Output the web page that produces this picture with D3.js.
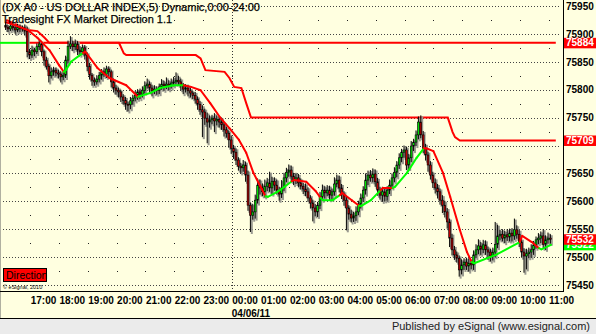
<!DOCTYPE html>
<html>
<head>
<meta charset="utf-8">
<script src="https://cdn.jsdelivr.net/npm/d3@7"></script>
<style>
  body { margin: 0; background: #fff; }
  svg { display: block; }
  text { font-family: "Liberation Sans", Arial, sans-serif; }
</style>
</head>
<body>
<svg id="chart"></svg>
<script>
// ---- data (5 minute bars, DX A0) ----
const startTime = new Date(2011, 3, 5, 16, 10);
const firstOpen = 75915;

const closes = [
  75912, 75909, 75914, 75911, 75907, 75912, 75909, 75911, 75905, 75868,
  75862, 75871, 75868, 75877, 75882, 75868, 75853, 75842, 75825, 75832, 75835, 75830,
  75828, 75823, 75826, 75853, 75878, 75882, 75877, 75882, 75871, 75868, 75875, 75862,
  75842, 75826, 75817, 75814, 75819, 75826, 75832, 75828, 75837, 75832, 75814, 75803,
  75799, 75796, 75787, 75781, 75774, 75773, 75780, 75785, 75790, 75796, 75792, 75799,
  75807, 75810, 75803, 75798, 75801, 75799, 75805, 75810, 75807, 75810, 75807, 75812,
  75814, 75817, 75814, 75807, 75801, 75803, 75798, 75794, 75790, 75783, 75774, 75764,
  75760, 75749, 75742, 75746, 75749, 75744, 75747, 75742, 75737, 75728, 75722, 75710,
  75695, 75688, 75674, 75663, 75660, 75665, 75647, 75593, 75575, 75581, 75602, 75629,
  75624, 75617, 75627, 75633, 75624, 75636, 75629, 75620, 75613, 75624, 75642, 75652,
  75656, 75645, 75638, 75642, 75633, 75627, 75622, 75617, 75606, 75597, 75588, 75581,
  75593, 75609, 75620, 75615, 75620, 75611, 75617, 75631, 75638, 75624, 75613, 75602,
  75588, 75577, 75570, 75574, 75581, 75595, 75606, 75620, 75638, 75647, 75642, 75649,
  75635, 75620, 75611, 75617, 75609, 75620, 75629, 75642, 75652, 75665, 75678, 75688,
  75692, 75665, 75678, 75699, 75706, 75719, 75742, 75719, 75695, 75683, 75665, 75647,
  75633, 75624, 75617, 75602, 75593, 75581, 75563, 75534, 75513, 75504, 75498, 75477,
  75486, 75491, 75484, 75489, 75486, 75504, 75513, 75520, 75514, 75522, 75513, 75509,
  75502, 75509, 75523, 75538, 75541, 75534, 75540, 75536, 75543, 75538, 75549, 75541,
  75527, 75509, 75502, 75506, 75509, 75513, 75522, 75531, 75534, 75538, 75523, 75531, 75534, 75532
];

// wick length above / below the body, in points
const wickHi = [
  6, 4, 5, 8, 4, 6, 5, 4, 6, 8,
  5, 8, 4, 6, 9, 5, 4, 6, 5, 8, 6, 5,
  6, 5, 7, 8, 10, 14, 6, 8, 5, 7, 6, 5,
  5, 6, 4, 5, 7, 6, 5, 8, 6, 5, 4, 6,
  6, 5, 4, 5, 6, 5, 7, 6, 8, 5, 6, 7,
  8, 10, 5, 6, 7, 5, 6, 9, 6, 12, 7, 8,
  9, 14, 8, 6, 5, 7, 6, 5, 4, 6, 5, 6,
  8, 6, 10, 8, 6, 9, 7, 6, 8, 5, 6, 5,
  8, 6, 7, 5, 6, 9, 6, 8, 5, 14, 10, 12,
  10, 8, 12, 9, 20, 8, 7, 10, 6, 14, 9, 8,
  10, 8, 6, 9, 7, 8, 6, 10, 8, 5, 6, 7,
  6, 8, 10, 7, 9, 8, 6, 12, 10, 8, 7, 5,
  6, 5, 8, 7, 10, 6, 8, 7, 12, 8, 9, 10,
  8, 7, 6, 9, 8, 7, 10, 8, 9, 7, 8, 6,
  8, 6, 7, 9, 6, 8, 10, 12, 7, 8, 6, 7,
  6, 8, 7, 6, 9, 8, 7, 6, 8, 7, 6, 5,
  10, 7, 8, 9, 6, 8, 10, 12, 7, 9, 8, 6,
  6, 8, 40, 20, 8, 9, 7, 10, 8, 9, 20, 8,
  8, 6, 7, 9, 8, 10, 7, 6, 9, 8, 12, 8, 10, 7
];
const wickLo = [
  5, 6, 4, 5, 7, 4, 6, 5, 8, 10,
  7, 5, 8, 4, 6, 8, 10, 6, 12, 5, 7, 6,
  8, 10, 6, 5, 6, 5, 8, 6, 9, 7, 5, 8,
  9, 8, 10, 7, 5, 6, 8, 5, 7, 9, 10, 8,
  8, 10, 9, 8, 10, 12, 8, 7, 6, 8, 9, 6,
  6, 5, 8, 10, 6, 8, 7, 5, 9, 6, 8, 5,
  6, 5, 7, 8, 9, 6, 10, 8, 7, 8, 10, 9,
  45, 12, 38, 10, 8, 20, 8, 10, 9, 12, 8, 14,
  10, 12, 9, 8, 10, 7, 12, 10, 30, 8, 12, 6,
  12, 8, 10, 9, 7, 12, 10, 8, 12, 7, 6, 8,
  8, 10, 9, 7, 8, 6, 9, 8, 7, 10, 24, 8,
  9, 7, 8, 10, 6, 9, 8, 7, 6, 8, 9, 10,
  40, 10, 8, 7, 9, 6, 8, 7, 8, 9, 7, 8,
  9, 10, 8, 12, 9, 8, 7, 6, 8, 9, 7, 8,
  10, 9, 7, 8, 9, 7, 8, 6, 9, 10, 12, 8,
  9, 10, 12, 8, 14, 10, 12, 16, 10, 9, 8, 12,
  8, 9, 7, 10, 8, 9, 6, 8, 10, 7, 9, 14,
  10, 8, 9, 7, 8, 6, 9, 7, 8, 10, 7, 8,
  9, 10, 30, 24, 8, 10, 9, 7, 8, 9, 8, 10, 7, 8
];

// trend average: [bar, value, direction]
const maPoints = [
  [0, 75921, "u"], [2, 75918, "d"], [9, 75907, "d"], [13, 75893, "d"], [18, 75871, "d"],
  [22, 75844, "d"], [24, 75832, "d"], [25, 75836, "u"], [27, 75850, "u"], [32, 75866, "u"],
  [33, 75868, "d"], [38, 75839, "d"], [43, 75821, "d"], [50, 75808, "d"], [55, 75787, "d"],
  [56, 75789, "u"], [60, 75794, "u"], [64, 75803, "u"], [70, 75808, "u"], [74, 75808, "u"],
  [77, 75805, "d"], [81, 75799, "d"], [85, 75776, "d"], [89, 75751, "d"], [93, 75731, "d"],
  [97, 75710, "d"], [100, 75687, "d"], [103, 75651, "d"], [106, 75626, "d"], [108, 75609, "d"],
  [109, 75608, "u"], [113, 75617, "u"], [116, 75626, "u"], [119, 75636, "u"],
  [120, 75638, "d"], [125, 75635, "d"], [129, 75618, "d"], [131, 75606, "d"],
  [132, 75602, "u"], [136, 75602, "u"], [139, 75611, "u"],
  [140, 75615, "d"], [144, 75602, "d"], [147, 75592, "d"],
  [148, 75592, "u"], [152, 75602, "u"], [156, 75620, "u"],
  [157, 75624, "d"], [161, 75624, "d"],
  [162, 75626, "u"], [167, 75651, "u"], [171, 75678, "u"], [174, 75695, "u"],
  [175, 75695, "d"], [178, 75690, "d"], [182, 75651, "d"], [185, 75608, "d"], [189, 75549, "d"],
  [192, 75509, "d"], [194, 75491, "d"],
  [195, 75489, "u"], [204, 75504, "u"], [214, 75527, "u"],
  [215, 75538, "d"], [219, 75527, "d"], [222, 75516, "d"],
  [223, 75514, "u"], [227, 75522, "u"]
];

// stepped market direction line: [bar, value]
const stepPoints = [
  [0, 75925], [9, 75907], [13, 75905], [16, 75893], [18, 75884], [47, 75884], [49, 75865],
  [50, 75862], [79, 75862], [81, 75856], [83, 75835], [91, 75832], [93, 75821], [95, 75805],
  [98, 75803], [100, 75776], [102, 75750], [184, 75750], [186, 75724], [187, 75715],
  [189, 75709], [229, 75709]
];

const levelValue = 75884;
const levelGreenUntil = 9;   // bar where the level turns red
const levelEnd = 229;

const priceTicks = [75450, 75500, 75550, 75600, 75650, 75700, 75750, 75800, 75850, 75900, 75950];
const priceLabels = [75450, 75500, 75550, 75600, 75650, 75750, 75800, 75850, 75900, 75950]; // 75700 sits under a tag
const halfTicks = [75475, 75525, 75575, 75625, 75675, 75725, 75775, 75825, 75875, 75925];
const markerLabels = [
  { value: 75522, color: "#00ff00" },
  { value: 75884, color: "#ff0000" },
  { value: 75709, color: "#ff0000" },
  { value: 75532, color: "#ff0000" }
];
const titleLines = ["(DX A0 - US DOLLAR INDEX,5) Dynamic,0:00-24:00", "Tradesight FX Market Direction 1.1"];

// ---- layout ----
const width = 596, height = 334;
const plotRight = 563, plotBottom = 291;
const bg = "#ffffe0";

const svg = d3.select("#chart").attr("width", width).attr("height", height);

const barTime = i => new Date(startTime.getTime() + i * 5 * 60000);

const x = d3.scaleTime()
  .domain([new Date(2011, 3, 5, 17, 0), new Date(2011, 3, 6, 11, 0)])
  .range([30.2, 548.6]);
const y = d3.scaleLinear().domain([75450, 75950]).range([285, 6]);

// background
svg.append("rect").attr("width", width).attr("height", 318).attr("fill", bg);
svg.append("rect").attr("y", 319).attr("width", width).attr("height", 15).attr("fill", "#ebebeb");
svg.append("line").attr("x1", 0).attr("x2", width).attr("y1", 318.5).attr("y2", 318.5).attr("stroke", "#000");
svg.append("line").attr("x1", 0.5).attr("x2", 0.5).attr("y1", 0).attr("y2", 318).attr("stroke", "#b0b0a0");

const hours = d3.timeHour.range(new Date(2011, 3, 5, 17, 0), new Date(2011, 3, 6, 11, 1));

// grid
const grid = svg.append("g");
grid.selectAll(".hgrid")
  .data(priceTicks)
  .join("line")
  .attr("x1", 3).attr("x2", 560)
  .attr("y1", d => Math.round(y(d)) + 0.5).attr("y2", d => Math.round(y(d)) + 0.5)
  .attr("stroke", "#444").attr("stroke-dasharray", "1,2");

const dots = [];
hours.forEach(h => halfTicks.forEach(v => dots.push([h, v])));
grid.selectAll(".dot")
  .data(dots)
  .join("rect")
  .attr("x", d => Math.round(x(d[0])))
  .attr("y", d => Math.round(y(d[1])))
  .attr("width", 1).attr("height", 1)
  .attr("fill", "#222");

grid.selectAll(".day")
  .data(hours.filter(h => h.getHours() === 0))
  .join("line")
  .attr("x1", d => Math.round(x(d)) + 0.5).attr("x2", d => Math.round(x(d)) + 0.5)
  .attr("y1", 0).attr("y2", plotBottom)
  .attr("stroke", "#333").attr("stroke-dasharray", "1,2");

// level line (green then red)
const levelLine = d3.line().x(d => x(barTime(d))).y(() => y(levelValue));
svg.append("path").attr("d", levelLine([-3, levelGreenUntil]))
  .attr("fill", "none").attr("stroke", "#00ff00").attr("stroke-width", 2);
svg.append("path").attr("d", levelLine([levelGreenUntil, levelEnd]))
  .attr("fill", "none").attr("stroke", "#ff0000").attr("stroke-width", 2);

// stepped direction line
svg.append("path")
  .attr("d", d3.line().x(d => x(barTime(d[0]))).y(d => y(d[1]))(stepPoints))
  .attr("fill", "none").attr("stroke", "#ff0000").attr("stroke-width", 2);

// candles
const bars = closes.map((c, i) => {
  const o = i ? closes[i - 1] : firstOpen;
  return { t: barTime(i), o, c, h: Math.max(o, c) + wickHi[i], l: Math.min(o, c) - wickLo[i] };
});

const candles = svg.append("g");
candles.selectAll(".shadow")
  .data(bars)
  .join("rect")
  .attr("x", d => x(d.t) - 0.2)
  .attr("y", d => y(d.h) + 1)
  .attr("width", 2)
  .attr("height", d => y(d.l) - y(d.h) + 1)
  .attr("fill", "#9a9a90");
candles.selectAll(".wick")
  .data(bars)
  .join("line")
  .attr("x1", d => x(d.t) - 0.6).attr("x2", d => x(d.t) - 0.6)
  .attr("y1", d => y(d.h)).attr("y2", d => y(d.l))
  .attr("stroke", "#000").attr("stroke-width", 1);
candles.selectAll(".body")
  .data(bars)
  .join("rect")
  .attr("x", d => x(d.t) - 1.5)
  .attr("y", d => y(Math.max(d.o, d.c)))
  .attr("width", 1.8)
  .attr("height", d => Math.max(1, Math.abs(y(d.o) - y(d.c))))
  .attr("fill", d => d.c >= d.o ? "#00e000" : "#c00000")
  .attr("stroke", "#000").attr("stroke-width", 0.6);

// trend average, coloured by direction
const maG = svg.append("g");
for (let i = 1; i < maPoints.length; i++) {
  const a = maPoints[i - 1], b = maPoints[i];
  maG.append("line")
    .attr("x1", x(barTime(a[0]))).attr("y1", y(a[1]))
    .attr("x2", x(barTime(b[0]))).attr("y2", y(b[1]))
    .attr("stroke", b[2] === "u" ? "#00ff00" : "#ff0000")
    .attr("stroke-width", 2).attr("stroke-linecap", "round");
}

// frame lines
svg.append("line").attr("x1", plotRight + 0.5).attr("x2", plotRight + 0.5)
  .attr("y1", 0).attr("y2", plotBottom).attr("stroke", "#000");
svg.append("line").attr("x1", 0).attr("x2", plotRight + 1)
  .attr("y1", plotBottom + 0.5).attr("y2", plotBottom + 0.5).attr("stroke", "#000");

// price axis
const yAxis = d3.axisRight(y).tickValues(priceLabels).tickSize(0).tickPadding(3).tickFormat(d3.format("d"));
svg.append("g")
  .attr("transform", `translate(${plotRight},0)`)
  .call(yAxis)
  .call(g => g.select(".domain").remove())
  .selectAll("text")
  .attr("font-family", '"Liberation Sans", Arial, sans-serif')
  .attr("font-size", 10).attr("font-weight", "bold").attr("fill", "#000");

const marks = svg.append("g");
markerLabels.forEach(m => {
  const yy = y(m.value);
  marks.append("rect").attr("x", 564).attr("y", yy - 5).attr("width", 32).attr("height", 10.5).attr("fill", m.color);
  marks.append("text").attr("x", 566).attr("y", yy).attr("dy", "0.36em")
    .attr("font-size", 10).attr("font-weight", "bold").attr("fill", "#fff").text(m.value);
});

// time axis
const xAxis = d3.axisBottom(x).tickValues(hours).tickSize(0).tickPadding(0).tickFormat(d3.timeFormat("%H:%M"));
const xg = svg.append("g")
  .attr("transform", `translate(0,${plotBottom})`)
  .call(xAxis)
  .call(g => g.select(".domain").remove());
xg.selectAll("text")
  .attr("font-family", '"Liberation Sans", Arial, sans-serif')
  .attr("font-size", 10).attr("font-weight", "bold").attr("fill", "#000")
  .attr("text-anchor", "start").attr("y", 13).attr("dy", 0);

svg.selectAll(".date")
  .data(hours.filter(h => h.getHours() === 0))
  .join("text")
  .attr("x", d => x(d)).attr("y", 316.5)
  .attr("font-size", 10).attr("font-weight", "bold").attr("fill", "#000")
  .text(d3.timeFormat("%m/%d/%y"));

// titles
svg.selectAll(".title")
  .data(titleLines)
  .join("text")
  .attr("x", 2).attr("y", (d, i) => 11 + i * 11.5)
  .attr("font-size", 11).attr("fill", "#000")
  .attr("stroke", "#000").attr("stroke-width", 0.25)
  .text(d => d);

// direction tag and copyright
svg.append("rect").attr("x", 3.5).attr("y", 268.5).attr("width", 43).attr("height", 13)
  .attr("fill", "#ff0000").attr("stroke", "#000");
svg.append("text").attr("x", 6).attr("y", 279).attr("font-size", 10.5).attr("fill", "#000").text("Direction");
svg.append("text").attr("x", 3).attr("y", 288.5).attr("font-size", 5.5).attr("fill", "#000").text("\u00a9 eSignal, 2010");

svg.append("text").attr("x", 590).attr("y", 330).attr("text-anchor", "end")
  .attr("font-size", 11).attr("fill", "#222").text("Published by eSignal (www.esignal.com)");
</script>
</body>
</html>
